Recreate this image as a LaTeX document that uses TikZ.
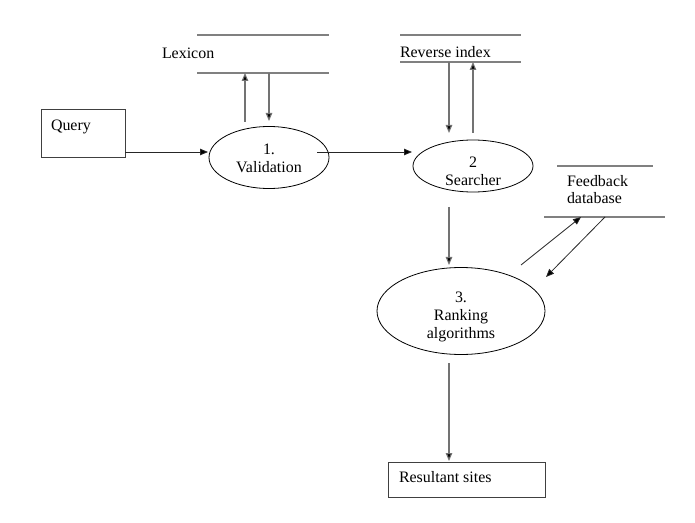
\documentclass[tikz,border=0pt]{standalone}
\usepackage{fontspec}
\setmainfont{Liberation Serif}
\usetikzlibrary{arrows.meta,shapes.geometric}
\begin{document}
\begin{tikzpicture}[x=1bp,y=-1bp,
  every node/.style={font=\fontsize{16}{18}\selectfont, inner sep=0pt, outer sep=0pt},
  proc/.style={ellipse, draw=black, line width=0.8bp, align=center},
  proclabel/.style={align=center, inner sep=0pt},
  box/.style={draw=black!75, line width=1bp},
  storeline/.style={draw=black!50, line width=1.2bp},
  flow/.style={draw=black!55, line width=1.1bp, -{Triangle[length=8bp,width=6.5bp,fill=black]}},
  flowdark/.style={flow, draw=black!85, line width=0.8bp},
]
\useasboundingbox (0,0) rectangle (695,523);

% external entities
\node[box, minimum width=84bp, minimum height=48bp, anchor=north west] (query) at (41,110) {};
\node[anchor=base west] (querytext) at (51,131) {Query};
\node[box, minimum width=157bp, minimum height=35bp, anchor=north west] (res) at (388,462) {};
\node[anchor=base west] (restext) at (399,482) {Resultant sites};

% processes
\node[proc, minimum width=120bp, minimum height=62bp,
  label={[proclabel, yshift=-1bp]center:{1.\\Validation}}] (val) at (269,157.5) {};
\node[proc, minimum width=120bp, minimum height=52bp,
  label={[proclabel, yshift=-5bp]center:{2\\Searcher}}] (sea) at (473,166) {};
\node[proc, minimum width=168bp, minimum height=87bp,
  label={[proclabel, yshift=-6bp]center:{3.\\Ranking\\algorithms}}] (rank) at (461,311) {};

% data stores
\coordinate (lexA) at (197,35); \coordinate (lexB) at (329,35);
\coordinate (lexC) at (197,73); \coordinate (lexD) at (329,73);
\draw[storeline] (lexA) -- (lexB);
\draw[storeline] (lexC) -- (lexD);
\node[anchor=base west] (lex) at (162,59) {Lexicon};

\coordinate (revA) at (400,35); \coordinate (revB) at (521,35);
\coordinate (revC) at (400,62); \coordinate (revD) at (521,62);
\draw[storeline] (revA) -- (revB);
\draw[storeline] (revC) -- (revD);
\node[anchor=base west] (rev) at (400,58) {Reverse index};

\coordinate (fbA) at (557,166); \coordinate (fbB) at (653,166);
\coordinate (fbC) at (544,217); \coordinate (fbD) at (665,217);
\draw[storeline] (fbA) -- (fbB);
\draw[storeline] (fbC) -- (fbD);
\node[anchor=north west, align=left] (fb) at (567,175) {Feedback\\database};

% connector end points
\coordinate (q1) at (125,152);
\coordinate (v1) at (208,152);
\coordinate (v2) at (317,152);
\coordinate (s1) at (412,152);
\coordinate (lexUp0) at (245,122); \coordinate (lexUp1) at (245,73);
\coordinate (lexDn0) at (269,73);  \coordinate (lexDn1) at (269,121);
\coordinate (revDn0) at (449,62);  \coordinate (revDn1) at (449,133);
\coordinate (revUp0) at (473,133); \coordinate (revUp1) at (473,62);
\coordinate (sr0) at (449,207);    \coordinate (sr1) at (449,265);
\coordinate (fbUp0) at (521,265);  \coordinate (fbUp1) at (581,217);
\coordinate (fbDn0) at (605,217);  \coordinate (fbDn1) at (546,277);
\coordinate (rr0) at (449,363);    \coordinate (rr1) at (449,461);

% connectors
\draw[flowdark] (q1) -- (v1);
\draw[flowdark] (v2) -- (s1);
\draw[flow] (lexUp0) -- (lexUp1);
\draw[flow] (lexDn0) -- (lexDn1);
\draw[flow] (revDn0) -- (revDn1);
\draw[flow] (revUp0) -- (revUp1);
\draw[flow] (sr0) -- (sr1);
\draw[flowdark] (fbUp0) -- (fbUp1);
\draw[flowdark] (fbDn0) -- (fbDn1);
\draw[flow] (rr0) -- (rr1);
\end{tikzpicture}
\end{document}
